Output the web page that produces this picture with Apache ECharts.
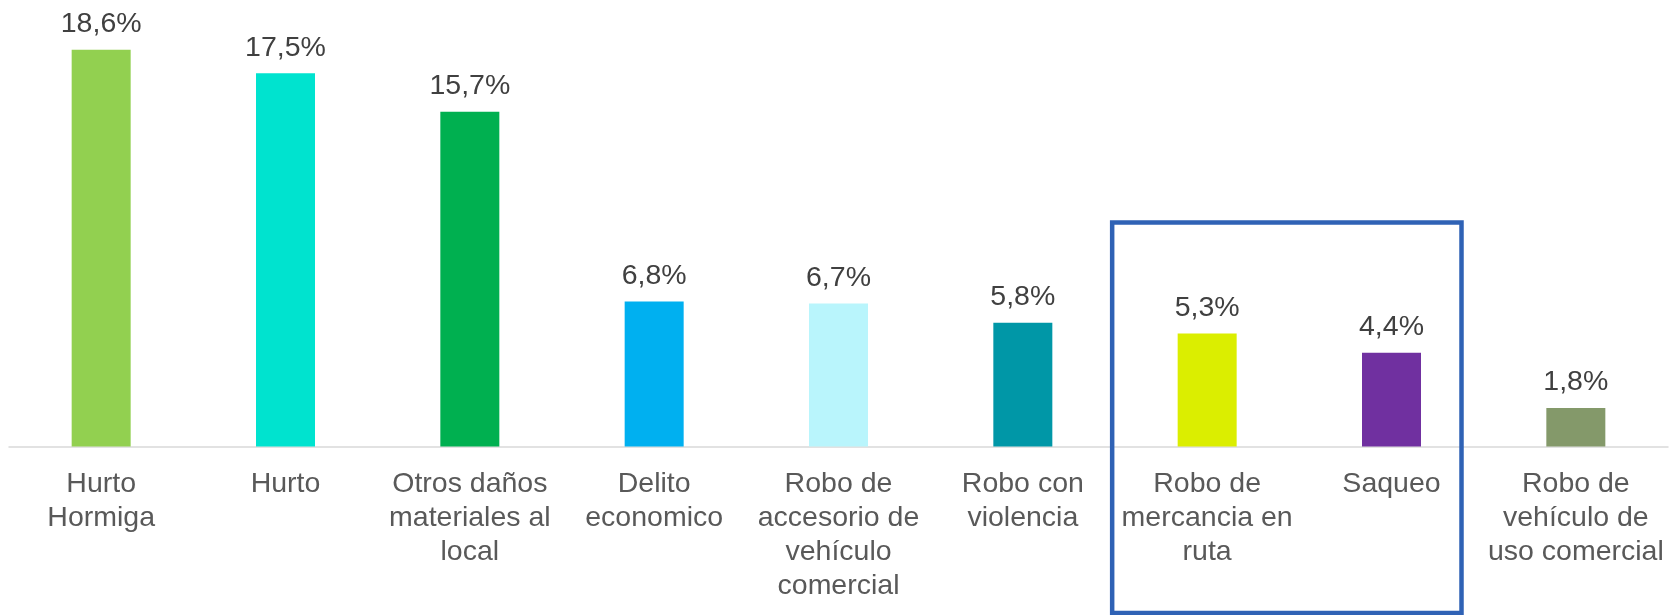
<!DOCTYPE html>
<html>
<head>
<meta charset="utf-8">
<script src="https://cdn.jsdelivr.net/npm/echarts@6/dist/echarts.min.js"></script>
<style>
html,body{margin:0;padding:0;background:#fff;}
#chart{width:1671px;height:615px;}
</style>
</head>
<body>
<div id="chart"></div>
<script>
const categories = [
  "Hurto\nHormiga",
  "Hurto",
  "Otros daños\nmateriales al\nlocal",
  "Delito\neconomico",
  "Robo de\naccesorio de\nvehículo\ncomercial",
  "Robo con\nviolencia",
  "Robo de\nmercancia en\nruta",
  "Saqueo",
  "Robo de\nvehículo de\nuso comercial"
];
const values = [18.6, 17.5, 15.7, 6.8, 6.7, 5.8, 5.3, 4.4, 1.8];
const barColors = ["#92D050", "#00E3CF", "#00B050", "#00B0F0", "#B9F5FC", "#0097A7", "#DBEE00", "#7030A0", "#84996A"];
const highlighted = [6, 7];

const FONT = "Liberation Sans, Arial, sans-serif";
const chart = echarts.init(document.getElementById('chart'));
chart.setOption({
  animation: false,
  grid: { left: 9, right: 3, top: 20, bottom: 168.5, containLabel: false },
  xAxis: {
    type: 'category',
    data: categories,
    axisLine: { show: true, lineStyle: { color: '#D9D9D9', width: 1.5 } },
    axisTick: { show: false },
    axisLabel: {
      interval: 0,
      color: '#595959',
      fontFamily: FONT,
      fontSize: 28.5,
      lineHeight: 34,
      margin: 21,
      align: 'center'
    }
  },
  yAxis: {
    type: 'value', min: 0, max: 20, show: false,
    splitLine: { show: false }
  },
  series: [{
    type: 'bar',
    barWidth: 59,
    data: values.map((v, i) => ({ value: v, itemStyle: { color: barColors[i] } })),
    label: {
      show: true,
      position: 'top',
      distance: 11,
      color: '#404040',
      fontFamily: FONT,
      fontSize: 28.5,
      formatter: p => p.value.toFixed(1).replace('.', ',') + '%'
    }
  }]
});

// Highlight box around the selected categories
const xa = chart.convertToPixel({ xAxisIndex: 0 }, highlighted[0]);
const xb = chart.convertToPixel({ xAxisIndex: 0 }, highlighted[1]);
chart.setOption({
  graphic: [{
    type: 'rect',
    shape: { x: xa - 95, y: 222.5, width: (xb + 70) - (xa - 95), height: 390.5 },
    style: { fill: 'none', stroke: '#2F62B5', lineWidth: 4.5 },
    z: 100
  }]
});
</script>
</body>
</html>
